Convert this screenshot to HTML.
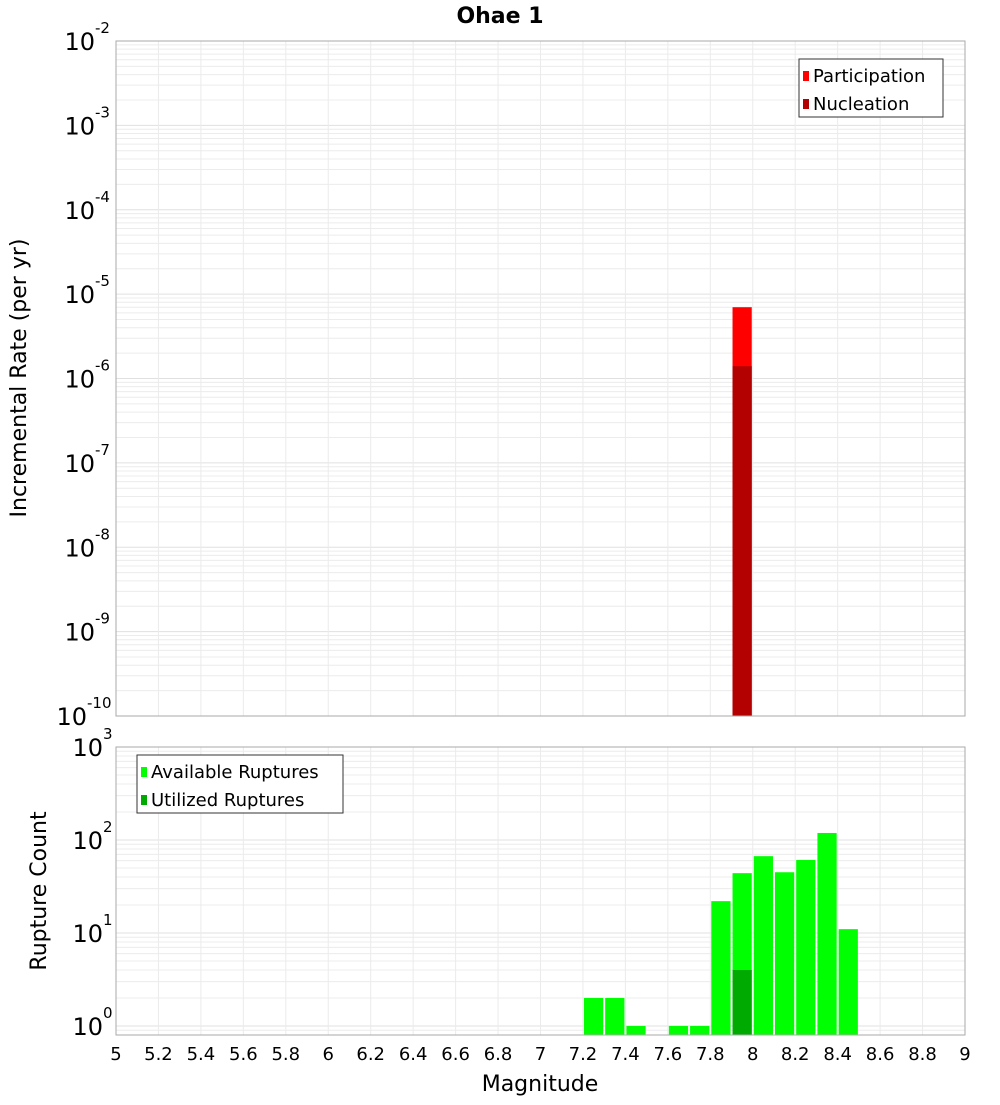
<!DOCTYPE html>
<html><head><meta charset="utf-8"><style>
body{margin:0;background:#fff;}
svg text{font-family:"DejaVu Sans","Liberation Sans",sans-serif;}
</style></head><body>
<svg id="c" width="1000" height="1100" xmlns="http://www.w3.org/2000/svg"></svg>
<script>
const xTicks=[5,5.2,5.4,5.6,5.8,6,6.2,6.4,6.6,6.8,7,7.2,7.4,7.6,7.8,8,8.2,8.4,8.6,8.8,9];
const topCats=[7.95];
const participation=[7e-6];
const nucleation=[1.4e-6];
const topDecades=[-10,-9,-8,-7,-6,-5,-4,-3,-2];
const botCats=[7.25,7.35,7.45,7.65,7.75,7.85,7.95,8.05,8.15,8.25,8.35,8.45];
const available=[2,2,1,1,1,22,44,67,45,61,119,11];
const utilizedCats=[7.95];
const utilized=[4];
const botDecades=[0,1,2,3];

const svg=document.getElementById('c');
const NS='http://www.w3.org/2000/svg';
function el(t,a,p){const e=document.createElementNS(NS,t);for(const k in a)e.setAttribute(k,a[k]);(p||svg).appendChild(e);return e;}
const X0=116,X1=965;
const xs=v=>X0+(v-5)/4*(X1-X0);
const T0=41,T1=716;
const ysT=v=>T0+(-2-Math.log10(v))/8*(T1-T0);
const B0=747,B1=1035,BMIN=Math.log10(0.8);
const ysB=v=>B0+(3-Math.log10(v))/(3-BMIN)*(B1-B0);
const bw=(xs(5.1)-xs(5));

// title
let t=el('text',{x:500,y:23,'text-anchor':'middle','font-size':22,'font-weight':'bold'});t.textContent='Ohae 1';


function grid(y0,y1,ys,decLo,decHi,minV){
  const g=el('g',{});
  
  for(let d=decLo;d<=decHi;d++){for(let m=1;m<10;m++){const v=m*Math.pow(10,d);if(v<minV)continue;const y=ys(v);if(y<y0-0.5||y>y1+0.5)continue;
    el('line',{x1:X0,x2:X1,y1:y,y2:y,stroke:m==1?'#e0e0e0':'#ececec','stroke-width':1},g);}}
  xTicks.forEach(v=>el('line',{x1:xs(v),x2:xs(v),y1:y0,y2:y1,stroke:'#ebebeb'},g));
}
grid(T0,T1,ysT,-10,-3,1e-10);
grid(B0,B1,ysB,-1,2,0.8);

// top bars
topCats.forEach((c,i)=>{
  const x=xs(c)-bw/2;
  let r=el('rect',{x:x+1,y:ysT(participation[i]),width:bw-2,height:T1-ysT(participation[i]),fill:'#ff0000'});
  
  r=el('rect',{x:x+1,y:ysT(nucleation[i]),width:bw-2,height:T1-ysT(nucleation[i]),fill:'#b30000'});
  
});
// bottom bars
botCats.forEach((c,i)=>{
  const x=xs(c)-bw/2;const y=ysB(available[i]);
  const r=el('rect',{x:x+1,y:y,width:bw-2,height:B1-y,fill:'#00ff00'});
  
});
utilizedCats.forEach((c,i)=>{
  const x=xs(c)-bw/2;const y=ysB(utilized[i]);
  const r=el('rect',{x:x+1,y:y,width:bw-2,height:B1-y,fill:'#00aa00'});
  
});

// frames
[[T0,T1],[B0,B1]].forEach(([a,b])=>{const r=el('rect',{x:X0,y:a,width:X1-X0,height:b-a,fill:'none',stroke:'#aaaaaa'});
  });

// y tick labels
function ylab(d,y){const g=el('g',{});
  
  const a=el('text',{x:111-String(d).length*8,y:y+9,'text-anchor':'end','font-size':24},g);a.textContent='10';
  const b=el('text',{x:111-String(d).length*8,y:y-8,'text-anchor':'start','font-size':15},g);b.textContent=String(d);}
topDecades.forEach(d=>ylab(d,ysT(Math.pow(10,d))));
botDecades.forEach(d=>ylab(d,ysB(Math.pow(10,d))));

// x tick labels
xTicks.forEach(v=>{const tx=el('text',{x:xs(v),y:1060,'text-anchor':'middle','font-size':18});tx.textContent=String(v);
  });
t=el('text',{x:540,y:1091,'text-anchor':'middle','font-size':22});t.textContent='Magnitude';

t=el('text',{x:0,y:0,'text-anchor':'middle','font-size':22,transform:'translate(26,378) rotate(-90)'});t.textContent='Incremental Rate (per yr)';

t=el('text',{x:0,y:0,'text-anchor':'middle','font-size':22,transform:'translate(46,891) rotate(-90)'});t.textContent='Rupture Count';


// legends
function legend(x,y,w,items,name){const g=el('g',{});
  
  el('rect',{x:x,y:y,width:w,height:58,fill:'#fff',stroke:'#333'},g);
  items.forEach((it,i)=>{el('rect',{x:x+4,y:y+12+i*28,width:6,height:10,fill:it[1]},g);
    const tx=el('text',{x:x+14,y:y+23+i*28,'font-size':18},g);tx.textContent=it[0];});}
legend(799,59,144,[['Participation','#ff0000'],['Nucleation','#b30000']],'legend-top');
legend(137,755,206,[['Available Ruptures','#00ff00'],['Utilized Ruptures','#00aa00']],'legend-bottom');
</script>
</body></html>
